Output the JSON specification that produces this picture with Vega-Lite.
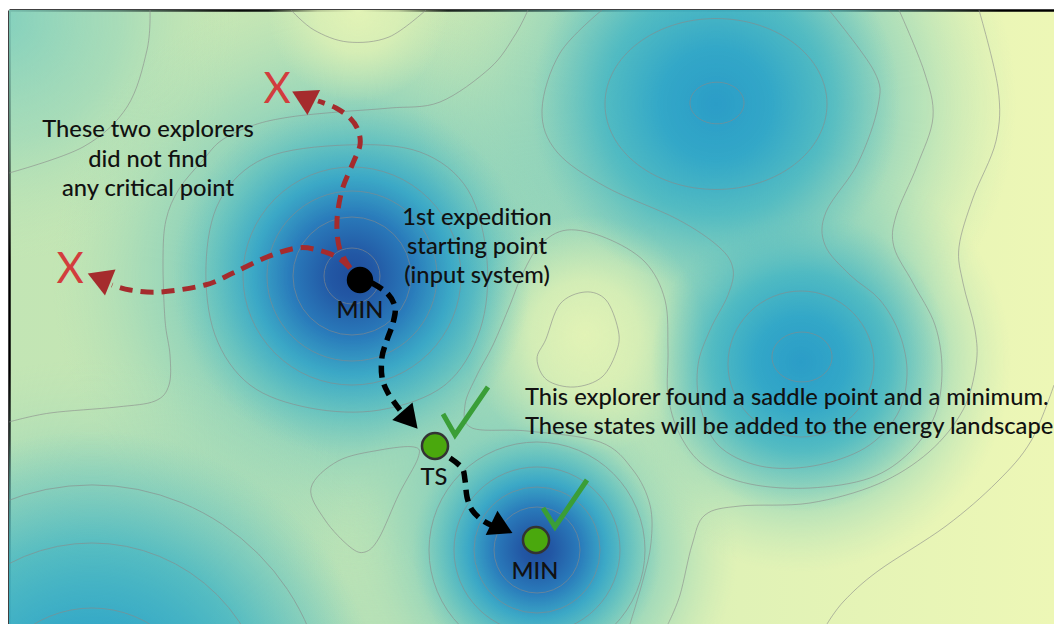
{
  "$schema": "https://vega.github.io/schema/vega-lite/v6.json",
  "width": 1045,
  "height": 614,
  "autosize": {"type": "none"},
  "padding": {"left": 9, "top": 10, "right": 0, "bottom": 0},
  "background": "#ffffff",
  "config": {
    "view": {"stroke": null, "fill": {"gradient": "linear", "x1": 0, "y1": 0, "x2": 1, "y2": 0, "stops": [{"offset": 0, "color": "#c2e5b4"}, {"offset": 0.45, "color": "#cde9b4"}, {"offset": 0.7, "color": "#e0f2b6"}, {"offset": 1, "color": "#edf7b6"}]}},
    "axis": {"domain": true, "domainColor": "#000000", "domainWidth": 2.5, "ticks": false, "labels": false, "grid": false, "title": null, "zindex": 1},
    "font": "Lato"
  },
  "encoding": {
    "x": {"field": "x", "type": "quantitative", "scale": {"domain": [9, 1054], "nice": false, "zero": false}, "axis": {"orient": "top", "title": null}},
    "y": {"field": "y", "type": "quantitative", "scale": {"domain": [10, 624], "nice": false, "zero": false, "reverse": true}, "axis": {"orient": "left", "title": null}}
  },
  "datasets": {
    "softHalos": [
      {"x": 0, "y": 20, "r": 240}
    ],
    "halos": [
      {"x": 352, "y": 276, "r": 300},
      {"x": 537, "y": 550, "r": 200},
      {"x": 716, "y": 104, "r": 300},
      {"x": 801, "y": 362, "r": 210},
      {"x": 92, "y": 720, "r": 360}
    ],
    "hills": [
      {"x": 585, "y": 335, "r": 120},
      {"x": 358, "y": 12, "r": 90}
    ],
    "deep": [
      {"x": 352, "y": 276, "r": 180},
      {"x": 537, "y": 550, "r": 125}
    ],
    "shallow": [
      {"x": 716, "y": 104, "r": 185},
      {"x": 801, "y": 362, "r": 150},
      {"x": 92, "y": 720, "r": 290}
    ],
    "rings": [
      {"x": 352, "y": 276, "r": 28}, {"x": 352, "y": 276, "r": 59}, {"x": 352, "y": 276, "r": 85}, {"x": 352, "y": 276, "r": 109},
      {"x": 537, "y": 550, "r": 43}, {"x": 537, "y": 550, "r": 63}, {"x": 537, "y": 550, "r": 83}, {"x": 537, "y": 550, "r": 108},
      {"x": 801, "y": 364, "r": 73},
      {"x": 92, "y": 720, "r": 112}, {"x": 92, "y": 720, "r": 177}, {"x": 92, "y": 720, "r": 235}
    ],
    "ringsB": [
      {"x": 717, "y": 103, "r": 27}, {"x": 716, "y": 104, "r": 111}
    ],
    "ringsC": [
      {"x": 802, "y": 357, "r": 30}
    ],
    "contours": [
      {"id": "L1", "i": 0, "x": 150, "y": 10}, {"id": "L1", "i": 1, "x": 147, "y": 50}, {"id": "L1", "i": 2, "x": 127, "y": 107}, {"id": "L1", "i": 3, "x": 83, "y": 147}, {"id": "L1", "i": 4, "x": 9, "y": 173},
      {"id": "L2", "i": 0, "x": 528, "y": 10}, {"id": "L2", "i": 1, "x": 515, "y": 35}, {"id": "L2", "i": 2, "x": 490, "y": 68}, {"id": "L2", "i": 3, "x": 440, "y": 102}, {"id": "L2", "i": 4, "x": 390, "y": 108}, {"id": "L2", "i": 5, "x": 338, "y": 112}, {"id": "L2", "i": 6, "x": 290, "y": 117}, {"id": "L2", "i": 7, "x": 254, "y": 125}, {"id": "L2", "i": 8, "x": 222, "y": 140}, {"id": "L2", "i": 9, "x": 203, "y": 160}, {"id": "L2", "i": 10, "x": 179, "y": 189}, {"id": "L2", "i": 11, "x": 166, "y": 220}, {"id": "L2", "i": 12, "x": 163, "y": 260}, {"id": "L2", "i": 13, "x": 165, "y": 320}, {"id": "L2", "i": 14, "x": 170, "y": 355}, {"id": "L2", "i": 15, "x": 169, "y": 385}, {"id": "L2", "i": 16, "x": 155, "y": 401}, {"id": "L2", "i": 17, "x": 117, "y": 407}, {"id": "L2", "i": 18, "x": 50, "y": 413}, {"id": "L2", "i": 19, "x": 9, "y": 422},
      {"id": "L3", "i": 0, "x": 291, "y": 10}, {"id": "L3", "i": 1, "x": 314, "y": 30}, {"id": "L3", "i": 2, "x": 348, "y": 42}, {"id": "L3", "i": 3, "x": 389, "y": 37}, {"id": "L3", "i": 4, "x": 426, "y": 10},
      {"id": "BC1", "i": 0, "x": 602, "y": 10}, {"id": "BC1", "i": 1, "x": 560, "y": 53}, {"id": "BC1", "i": 2, "x": 542, "y": 110}, {"id": "BC1", "i": 3, "x": 557, "y": 152}, {"id": "BC1", "i": 4, "x": 606, "y": 187}, {"id": "BC1", "i": 5, "x": 677, "y": 219}, {"id": "BC1", "i": 6, "x": 719, "y": 247}, {"id": "BC1", "i": 7, "x": 733, "y": 269}, {"id": "BC1", "i": 8, "x": 728, "y": 295}, {"id": "BC1", "i": 9, "x": 710, "y": 330}, {"id": "BC1", "i": 10, "x": 698, "y": 365}, {"id": "BC1", "i": 11, "x": 700, "y": 405}, {"id": "BC1", "i": 12, "x": 718, "y": 445}, {"id": "BC1", "i": 13, "x": 760, "y": 466}, {"id": "BC1", "i": 14, "x": 813, "y": 466}, {"id": "BC1", "i": 15, "x": 865, "y": 448}, {"id": "BC1", "i": 16, "x": 897, "y": 415}, {"id": "BC1", "i": 17, "x": 907, "y": 375}, {"id": "BC1", "i": 18, "x": 900, "y": 335}, {"id": "BC1", "i": 19, "x": 880, "y": 300}, {"id": "BC1", "i": 20, "x": 850, "y": 275}, {"id": "BC1", "i": 21, "x": 825, "y": 245}, {"id": "BC1", "i": 22, "x": 826, "y": 212}, {"id": "BC1", "i": 23, "x": 858, "y": 163}, {"id": "BC1", "i": 24, "x": 878, "y": 106}, {"id": "BC1", "i": 25, "x": 874, "y": 71}, {"id": "BC1", "i": 26, "x": 829, "y": 10},
      {"id": "BC2", "i": 0, "x": 899, "y": 10}, {"id": "BC2", "i": 1, "x": 924, "y": 71}, {"id": "BC2", "i": 2, "x": 933, "y": 117}, {"id": "BC2", "i": 3, "x": 917, "y": 166}, {"id": "BC2", "i": 4, "x": 896, "y": 216}, {"id": "BC2", "i": 5, "x": 894, "y": 247}, {"id": "BC2", "i": 6, "x": 913, "y": 283}, {"id": "BC2", "i": 7, "x": 935, "y": 325}, {"id": "BC2", "i": 8, "x": 942, "y": 370}, {"id": "BC2", "i": 9, "x": 935, "y": 415}, {"id": "BC2", "i": 10, "x": 910, "y": 452}, {"id": "BC2", "i": 11, "x": 870, "y": 478}, {"id": "BC2", "i": 12, "x": 810, "y": 488}, {"id": "BC2", "i": 13, "x": 750, "y": 484}, {"id": "BC2", "i": 14, "x": 705, "y": 466}, {"id": "BC2", "i": 15, "x": 680, "y": 435}, {"id": "BC2", "i": 16, "x": 668, "y": 395}, {"id": "BC2", "i": 17, "x": 668, "y": 350}, {"id": "BC2", "i": 18, "x": 665, "y": 300}, {"id": "BC2", "i": 19, "x": 645, "y": 262}, {"id": "BC2", "i": 20, "x": 606, "y": 238}, {"id": "BC2", "i": 21, "x": 567, "y": 230}, {"id": "BC2", "i": 22, "x": 540, "y": 245}, {"id": "BC2", "i": 23, "x": 522, "y": 275}, {"id": "BC2", "i": 24, "x": 510, "y": 305}, {"id": "BC2", "i": 25, "x": 493, "y": 345}, {"id": "BC2", "i": 26, "x": 477, "y": 375}, {"id": "BC2", "i": 27, "x": 465, "y": 405}, {"id": "BC2", "i": 28, "x": 472, "y": 428}, {"id": "BC2", "i": 29, "x": 527, "y": 431}, {"id": "BC2", "i": 30, "x": 600, "y": 442}, {"id": "BC2", "i": 31, "x": 633, "y": 470}, {"id": "BC2", "i": 32, "x": 650, "y": 505}, {"id": "BC2", "i": 33, "x": 651, "y": 543}, {"id": "BC2", "i": 34, "x": 643, "y": 580}, {"id": "BC2", "i": 35, "x": 630, "y": 624},
      {"id": "BC3", "i": 0, "x": 979, "y": 10}, {"id": "BC3", "i": 1, "x": 998, "y": 88}, {"id": "BC3", "i": 2, "x": 996, "y": 141}, {"id": "BC3", "i": 3, "x": 973, "y": 198}, {"id": "BC3", "i": 4, "x": 959, "y": 247}, {"id": "BC3", "i": 5, "x": 963, "y": 283}, {"id": "BC3", "i": 6, "x": 975, "y": 330}, {"id": "BC3", "i": 7, "x": 976, "y": 365}, {"id": "BC3", "i": 8, "x": 963, "y": 410}, {"id": "BC3", "i": 9, "x": 929, "y": 452}, {"id": "BC3", "i": 10, "x": 878, "y": 484}, {"id": "BC3", "i": 11, "x": 810, "y": 503}, {"id": "BC3", "i": 12, "x": 740, "y": 506}, {"id": "BC3", "i": 13, "x": 705, "y": 515}, {"id": "BC3", "i": 14, "x": 692, "y": 545}, {"id": "BC3", "i": 15, "x": 680, "y": 595}, {"id": "BC3", "i": 16, "x": 668, "y": 624},
      {"id": "L7", "i": 0, "x": 1054, "y": 385}, {"id": "L7", "i": 1, "x": 1031, "y": 441}, {"id": "L7", "i": 2, "x": 997, "y": 482}, {"id": "L7", "i": 3, "x": 946, "y": 526}, {"id": "L7", "i": 4, "x": 878, "y": 571}, {"id": "L7", "i": 5, "x": 844, "y": 601}, {"id": "L7", "i": 6, "x": 827, "y": 624}
    ],
    "loops": [
      {"id": "A5", "i": 0, "x": 346, "y": 145}, {"id": "A5", "i": 1, "x": 420, "y": 152}, {"id": "A5", "i": 2, "x": 468, "y": 190}, {"id": "A5", "i": 3, "x": 487, "y": 260}, {"id": "A5", "i": 4, "x": 480, "y": 330}, {"id": "A5", "i": 5, "x": 445, "y": 385}, {"id": "A5", "i": 6, "x": 380, "y": 410}, {"id": "A5", "i": 7, "x": 310, "y": 408}, {"id": "A5", "i": 8, "x": 250, "y": 385}, {"id": "A5", "i": 9, "x": 215, "y": 335}, {"id": "A5", "i": 10, "x": 206, "y": 265}, {"id": "A5", "i": 11, "x": 220, "y": 200}, {"id": "A5", "i": 12, "x": 265, "y": 158},
      {"id": "H1", "i": 0, "x": 546, "y": 339}, {"id": "H1", "i": 1, "x": 560, "y": 304}, {"id": "H1", "i": 2, "x": 585, "y": 292}, {"id": "H1", "i": 3, "x": 606, "y": 300}, {"id": "H1", "i": 4, "x": 618, "y": 329}, {"id": "H1", "i": 5, "x": 617, "y": 350}, {"id": "H1", "i": 6, "x": 602, "y": 377}, {"id": "H1", "i": 7, "x": 574, "y": 387}, {"id": "H1", "i": 8, "x": 547, "y": 380}, {"id": "H1", "i": 9, "x": 537, "y": 359},
      {"id": "T1", "i": 0, "x": 311, "y": 488}, {"id": "T1", "i": 1, "x": 338, "y": 461}, {"id": "T1", "i": 2, "x": 380, "y": 450}, {"id": "T1", "i": 3, "x": 414, "y": 447}, {"id": "T1", "i": 4, "x": 418, "y": 458}, {"id": "T1", "i": 5, "x": 399, "y": 494}, {"id": "T1", "i": 6, "x": 379, "y": 538}, {"id": "T1", "i": 7, "x": 365, "y": 552}, {"id": "T1", "i": 8, "x": 350, "y": 547}, {"id": "T1", "i": 9, "x": 325, "y": 520}
    ],
    "redPaths": [
      {"id": "up", "i": 0, "x": 350, "y": 268}, {"id": "up", "i": 1, "x": 340, "y": 250}, {"id": "up", "i": 2, "x": 337, "y": 230}, {"id": "up", "i": 3, "x": 338, "y": 210}, {"id": "up", "i": 4, "x": 343, "y": 187}, {"id": "up", "i": 5, "x": 353, "y": 163}, {"id": "up", "i": 6, "x": 360, "y": 145}, {"id": "up", "i": 7, "x": 358, "y": 130}, {"id": "up", "i": 8, "x": 350, "y": 118}, {"id": "up", "i": 9, "x": 336, "y": 108}, {"id": "up", "i": 10, "x": 318, "y": 101},
      {"id": "left", "i": 0, "x": 350, "y": 268}, {"id": "left", "i": 1, "x": 337, "y": 257}, {"id": "left", "i": 2, "x": 318, "y": 250}, {"id": "left", "i": 3, "x": 297, "y": 248}, {"id": "left", "i": 4, "x": 267, "y": 257}, {"id": "left", "i": 5, "x": 233, "y": 273}, {"id": "left", "i": 6, "x": 205, "y": 285}, {"id": "left", "i": 7, "x": 160, "y": 292}, {"id": "left", "i": 8, "x": 130, "y": 290}, {"id": "left", "i": 9, "x": 112, "y": 285}
    ],
    "blackPaths": [
      {"id": "toTS", "i": 0, "x": 372, "y": 283}, {"id": "toTS", "i": 1, "x": 387, "y": 293}, {"id": "toTS", "i": 2, "x": 395, "y": 307}, {"id": "toTS", "i": 3, "x": 393, "y": 323}, {"id": "toTS", "i": 4, "x": 387, "y": 340}, {"id": "toTS", "i": 5, "x": 382, "y": 357}, {"id": "toTS", "i": 6, "x": 382, "y": 377}, {"id": "toTS", "i": 7, "x": 388, "y": 393}, {"id": "toTS", "i": 8, "x": 400, "y": 410},
      {"id": "toMIN", "i": 0, "x": 450, "y": 458}, {"id": "toMIN", "i": 1, "x": 462, "y": 468}, {"id": "toMIN", "i": 2, "x": 465, "y": 480}, {"id": "toMIN", "i": 3, "x": 467, "y": 497}, {"id": "toMIN", "i": 4, "x": 472, "y": 510}, {"id": "toMIN", "i": 5, "x": 482, "y": 520}, {"id": "toMIN", "i": 6, "x": 493, "y": 526}
    ],
    "redHeads": [
      {"x": 303, "y": 97, "heading": 207},
      {"x": 99, "y": 278, "heading": 202}
    ],
    "blackHeads": [
      {"x": 410, "y": 420, "heading": 49},
      {"x": 502, "y": 528, "heading": 26}
    ],
    "checks": [
      {"id": "c1", "i": 0, "x": 443, "y": 414}, {"id": "c1", "i": 1, "x": 455, "y": 435}, {"id": "c1", "i": 2, "x": 488, "y": 387},
      {"id": "c2", "i": 0, "x": 543, "y": 508}, {"id": "c2", "i": 1, "x": 555, "y": 527}, {"id": "c2", "i": 2, "x": 587, "y": 480}
    ],
    "startState": [{"x": 360, "y": 280}],
    "foundStates": [{"x": 435, "y": 446}, {"x": 536, "y": 540}],
    "notesCentered": [
      {"x": 148, "y": 137, "label": "These two explorers"},
      {"x": 148, "y": 167, "label": "did not find"},
      {"x": 148, "y": 196, "label": "any critical point"},
      {"x": 477, "y": 225, "label": "1st expedition"},
      {"x": 477, "y": 254, "label": "starting point"},
      {"x": 477, "y": 283, "label": "(input system)"},
      {"x": 360, "y": 318, "label": "MIN"},
      {"x": 434, "y": 485, "label": "TS"},
      {"x": 535, "y": 579, "label": "MIN"}
    ],
    "notesLeft": [
      {"x": 525, "y": 405, "label": "This explorer found a saddle point and a minimum."},
      {"x": 525, "y": 434, "label": "These states will be added to the energy landscape"}
    ],
    "fails": [
      {"x": 277, "y": 103, "label": "X"},
      {"x": 70, "y": 283, "label": "X"}
    ]
  },
  "layer": [
    {
      "data": {"name": "softHalos"},
      "mark": {"type": "point", "shape": "circle", "filled": true, "opacity": 1, "strokeWidth": 0, "clip": true,
        "fill": {"gradient": "radial", "x1": 0.5, "y1": 0.5, "x2": 0.5, "y2": 0.5, "r1": 0, "r2": 0.5, "stops": [
          {"offset": 0, "color": "rgba(128,207,190,0.95)"}, {"offset": 0.5, "color": "rgba(150,214,187,0.6)"}, {"offset": 1, "color": "rgba(190,228,181,0)"}]}},
      "encoding": {"size": {"field": "r", "type": "quantitative", "scale": {"type": "pow", "exponent": 2, "domain": [0, 100], "range": [0, 40000]}, "legend": null}}
    },
    {
      "data": {"name": "halos"},
      "mark": {"type": "point", "shape": "circle", "filled": true, "opacity": 1, "strokeWidth": 0, "clip": true,
        "fill": {"gradient": "radial", "x1": 0.5, "y1": 0.5, "x2": 0.5, "y2": 0.5, "r1": 0, "r2": 0.5, "stops": [
          {"offset": 0, "color": "rgba(75,180,196,0.95)"}, {"offset": 0.4, "color": "rgba(95,192,192,0.8)"}, {"offset": 0.7, "color": "rgba(130,206,188,0.45)"}, {"offset": 1, "color": "rgba(170,220,183,0)"}]}},
      "encoding": {"size": {"field": "r", "type": "quantitative", "scale": {"type": "pow", "exponent": 2, "domain": [0, 100], "range": [0, 40000]}, "legend": null}}
    },
    {
      "data": {"name": "hills"},
      "mark": {"type": "point", "shape": "circle", "filled": true, "opacity": 1, "strokeWidth": 0, "clip": true,
        "fill": {"gradient": "radial", "x1": 0.5, "y1": 0.5, "x2": 0.5, "y2": 0.5, "r1": 0, "r2": 0.5, "stops": [
          {"offset": 0, "color": "rgba(226,243,182,1)"}, {"offset": 0.45, "color": "rgba(222,241,181,0.8)"}, {"offset": 1, "color": "rgba(215,238,180,0)"}]}},
      "encoding": {"size": {"field": "r", "type": "quantitative", "scale": {"type": "pow", "exponent": 2, "domain": [0, 100], "range": [0, 40000]}, "legend": null}}
    },
    {
      "data": {"name": "deep"},
      "mark": {"type": "point", "shape": "circle", "filled": true, "opacity": 1, "strokeWidth": 0, "clip": true,
        "fill": {"gradient": "radial", "x1": 0.5, "y1": 0.5, "x2": 0.5, "y2": 0.5, "r1": 0, "r2": 0.5, "stops": [
          {"offset": 0, "color": "#1f4d9c"}, {"offset": 0.12, "color": "#2257a4"}, {"offset": 0.35, "color": "#2a7cbb"}, {"offset": 0.55, "color": "rgba(54,165,199,0.9)"}, {"offset": 0.78, "color": "rgba(80,186,194,0.45)"}, {"offset": 1, "color": "rgba(110,198,190,0)"}]}},
      "encoding": {"size": {"field": "r", "type": "quantitative", "scale": {"type": "pow", "exponent": 2, "domain": [0, 100], "range": [0, 40000]}, "legend": null}}
    },
    {
      "data": {"name": "shallow"},
      "mark": {"type": "point", "shape": "circle", "filled": true, "opacity": 1, "strokeWidth": 0, "clip": true,
        "fill": {"gradient": "radial", "x1": 0.5, "y1": 0.5, "x2": 0.5, "y2": 0.5, "r1": 0, "r2": 0.5, "stops": [
          {"offset": 0, "color": "#2b9dc7"}, {"offset": 0.3, "color": "rgba(48,166,200,0.95)"}, {"offset": 0.6, "color": "rgba(66,181,196,0.7)"}, {"offset": 0.85, "color": "rgba(95,192,192,0.3)"}, {"offset": 1, "color": "rgba(110,198,190,0)"}]}},
      "encoding": {"size": {"field": "r", "type": "quantitative", "scale": {"type": "pow", "exponent": 2, "domain": [0, 100], "range": [0, 40000]}, "legend": null}}
    },
    {
      "data": {"name": "rings"},
      "mark": {"type": "point", "shape": "circle", "filled": false, "stroke": "#8a8a8a", "strokeWidth": 1, "opacity": 0.6, "clip": true},
      "encoding": {"size": {"field": "r", "type": "quantitative", "scale": {"type": "pow", "exponent": 2, "domain": [0, 100], "range": [0, 40000]}, "legend": null}}
    },
    {
      "data": {"name": "ringsB"},
      "mark": {"type": "point", "shape": "M-1,0A1,0.77,0,1,1,1,0A1,0.77,0,1,1,-1,0Z", "filled": false, "stroke": "#8a8a8a", "strokeWidth": 1, "opacity": 0.6, "clip": true},
      "encoding": {"size": {"field": "r", "type": "quantitative", "scale": {"type": "pow", "exponent": 2, "domain": [0, 100], "range": [0, 40000]}, "legend": null}}
    },
    {
      "data": {"name": "ringsC"},
      "mark": {"type": "point", "shape": "M-1,0A1,0.83,0,1,1,1,0A1,0.83,0,1,1,-1,0Z", "filled": false, "stroke": "#8a8a8a", "strokeWidth": 1, "opacity": 0.6, "clip": true},
      "encoding": {"size": {"field": "r", "type": "quantitative", "scale": {"type": "pow", "exponent": 2, "domain": [0, 100], "range": [0, 40000]}, "legend": null}}
    },
    {
      "data": {"name": "contours"},
      "mark": {"type": "line", "interpolate": "cardinal", "stroke": "#8a8a8a", "strokeWidth": 1, "opacity": 0.6, "clip": true},
      "encoding": {"detail": {"field": "id"}, "order": {"field": "i", "type": "quantitative"}}
    },
    {
      "data": {"name": "loops"},
      "mark": {"type": "line", "interpolate": "cardinal-closed", "stroke": "#8a8a8a", "strokeWidth": 1, "opacity": 0.6, "clip": true},
      "encoding": {"detail": {"field": "id"}, "order": {"field": "i", "type": "quantitative"}}
    },
    {
      "data": {"name": "redPaths"},
      "mark": {"type": "line", "interpolate": "cardinal", "stroke": "#a52b2d", "strokeWidth": 5, "strokeDash": [13, 8], "strokeCap": "butt"},
      "encoding": {"detail": {"field": "id"}, "order": {"field": "i", "type": "quantitative"}}
    },
    {
      "data": {"name": "blackPaths"},
      "mark": {"type": "line", "interpolate": "cardinal", "stroke": "#000000", "strokeWidth": 5.5, "strokeDash": [12, 7], "strokeCap": "butt"},
      "encoding": {"detail": {"field": "id"}, "order": {"field": "i", "type": "quantitative"}}
    },
    {
      "data": {"name": "redHeads"},
      "mark": {"type": "point", "shape": "triangle-right", "filled": true, "opacity": 1, "size": 784, "fill": "#a52b2d", "strokeWidth": 0},
      "encoding": {"angle": {"field": "heading", "type": "quantitative", "scale": null}}
    },
    {
      "data": {"name": "blackHeads"},
      "mark": {"type": "point", "shape": "triangle-right", "filled": true, "opacity": 1, "size": 720, "fill": "#000000", "strokeWidth": 0},
      "encoding": {"angle": {"field": "heading", "type": "quantitative", "scale": null}}
    },
    {
      "data": {"name": "checks"},
      "mark": {"type": "line", "interpolate": "linear", "stroke": "#3a9e37", "strokeWidth": 5, "strokeCap": "butt", "strokeJoin": "miter"},
      "encoding": {"detail": {"field": "id"}, "order": {"field": "i", "type": "quantitative"}}
    },
    {
      "data": {"name": "startState"},
      "mark": {"type": "point", "shape": "circle", "filled": true, "opacity": 1, "size": 700, "fill": "#000000", "strokeWidth": 0}
    },
    {
      "data": {"name": "foundStates"},
      "mark": {"type": "point", "shape": "circle", "filled": true, "opacity": 1, "size": 680, "fill": "#4aa80d", "stroke": "#333333", "strokeWidth": 2.5}
    },
    {
      "data": {"name": "notesCentered"},
      "mark": {"type": "text", "font": "Lato", "fontSize": 23.7, "fontWeight": 500, "align": "center", "baseline": "alphabetic", "color": "#111111"},
      "encoding": {"text": {"field": "label"}}
    },
    {
      "data": {"name": "notesLeft"},
      "mark": {"type": "text", "font": "Lato", "fontSize": 23.7, "fontWeight": 500, "align": "left", "baseline": "alphabetic", "color": "#111111"},
      "encoding": {"text": {"field": "label"}}
    },
    {
      "data": {"name": "fails"},
      "mark": {"type": "text", "font": "Lato", "fontSize": 42, "align": "center", "baseline": "alphabetic", "color": "#d23d3d"},
      "encoding": {"text": {"field": "label"}}
    }
  ]
}
